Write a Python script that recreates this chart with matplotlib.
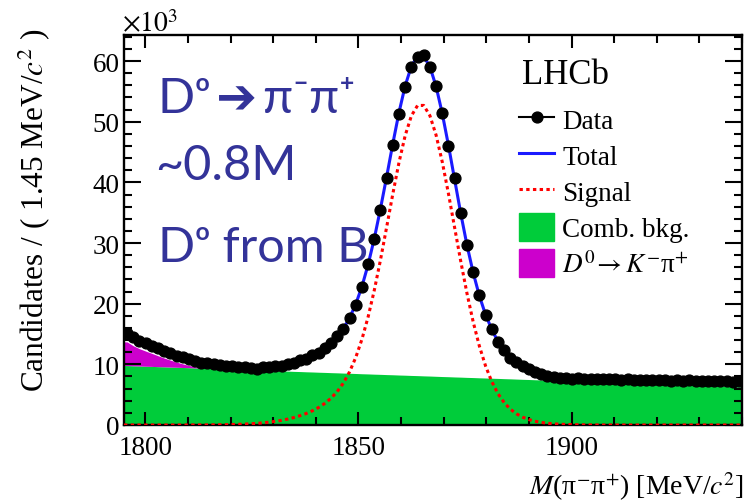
import numpy as np
import matplotlib
matplotlib.use("Agg")
import matplotlib.pyplot as plt
from matplotlib.lines import Line2D
from matplotlib.patches import Patch
from matplotlib.ticker import MultipleLocator

plt.rcParams["font.family"] = ["Liberation Serif", "DejaVu Serif"]
plt.rcParams["mathtext.fontset"] = "stix"

# mass binning: 100 bins of 1.45 MeV/c^2
m_lo, m_hi, bin_w = 1795.0, 1940.0, 1.45
centers = m_lo + bin_w * (np.arange(100) + 0.5)

# candidates per bin, in units of 10^3
data = [
    15.15, 14.55, 13.90, 13.55, 13.05, 12.75, 12.20, 11.90, 11.40, 11.20,
    10.80, 10.62, 10.30, 10.22, 10.00, 9.95, 9.75, 9.70, 9.55, 9.50,
    9.40, 9.30, 9.52, 9.50, 9.70, 9.75, 10.05, 10.25, 10.65, 10.95,
    11.50, 11.95, 12.75, 13.45, 14.60, 15.85, 17.70, 19.85, 22.80, 26.50,
    30.60, 35.50, 40.75, 46.10, 51.30, 55.70, 58.95, 60.75, 61.05, 59.10,
    55.85, 51.45, 46.05, 40.65, 34.90, 29.70, 25.30, 21.40, 18.10, 15.85,
    13.70, 12.30, 11.05, 10.35, 9.65, 9.25, 8.70, 8.45, 8.10, 7.98,
    7.80, 7.82, 7.65, 7.70, 7.62, 7.66, 7.55, 7.60, 7.54, 7.58,
    7.50, 7.55, 7.44, 7.50, 7.42, 7.46, 7.40, 7.41, 7.33, 7.38,
    7.30, 7.36, 7.27, 7.30, 7.22, 7.26, 7.20, 7.22, 7.12, 7.18,
]

total = [
    15.10, 14.43, 13.92, 13.50, 13.09, 12.67, 12.24, 11.85, 11.47, 11.13,
    10.84, 10.57, 10.37, 10.18, 10.03, 9.91, 9.79, 9.68, 9.57, 9.48,
    9.44, 9.43, 9.48, 9.56, 9.65, 9.79, 10.01, 10.27, 10.60, 10.97,
    11.44, 11.99, 12.69, 13.50, 14.56, 15.88, 17.65, 19.92, 22.83, 26.44,
    30.74, 35.66, 40.93, 46.39, 51.54, 55.94, 59.14, 60.82, 60.79, 59.07,
    55.82, 51.36, 46.11, 40.46, 34.83, 29.64, 25.13, 21.30, 18.20, 15.78,
    13.77, 12.25, 11.13, 10.32, 9.72, 9.20, 8.78, 8.41, 8.13, 7.96,
    7.85, 7.78, 7.72, 7.68, 7.65, 7.63, 7.61, 7.59, 7.57, 7.55,
    7.53, 7.51, 7.49, 7.47, 7.45, 7.43, 7.41, 7.39, 7.37, 7.35,
    7.33, 7.31, 7.29, 7.27, 7.25, 7.23, 7.21, 7.19, 7.17, 7.15,
]

signal = [
    0.00, 0.00, 0.00, 0.00, 0.00, 0.00, 0.00, 0.00, 0.00, 0.00,
    0.01, 0.01, 0.01, 0.02, 0.03, 0.04, 0.06, 0.08, 0.11, 0.15,
    0.20, 0.27, 0.36, 0.47, 0.60, 0.77, 0.98, 1.23, 1.54, 1.90,
    2.35, 2.89, 3.57, 4.42, 5.51, 6.92, 8.77, 11.13, 14.13, 17.82,
    22.21, 27.21, 32.62, 38.11, 43.30, 47.73, 50.97, 52.68, 52.69, 51.00,
    47.79, 43.37, 38.15, 32.54, 26.94, 21.69, 17.01, 13.02, 9.75, 7.17,
    5.19, 3.71, 2.62, 1.85, 1.29, 0.90, 0.62, 0.43, 0.29, 0.20,
    0.13, 0.09, 0.06, 0.04, 0.02, 0.01, 0.01, 0.00, 0.00, 0.00,
    0.00, 0.00, 0.00, 0.00, 0.00, 0.00, 0.00, 0.00, 0.00, 0.00,
    0.00, 0.00, 0.00, 0.00, 0.00, 0.00, 0.00, 0.00, 0.00, 0.00,
]

comb = [
    9.80, 9.76, 9.73, 9.69, 9.66, 9.62, 9.59, 9.55, 9.52, 9.48,
    9.45, 9.41, 9.38, 9.34, 9.30, 9.27, 9.23, 9.20, 9.16, 9.13,
    9.09, 9.06, 9.02, 8.99, 8.95, 8.92, 8.88, 8.84, 8.81, 8.77,
    8.74, 8.70, 8.67, 8.63, 8.60, 8.56, 8.53, 8.49, 8.45, 8.42,
    8.38, 8.35, 8.31, 8.28, 8.24, 8.21, 8.17, 8.14, 8.10, 8.07,
    8.03, 7.99, 7.96, 7.92, 7.89, 7.85, 7.82, 7.78, 7.75, 7.71,
    7.68, 7.64, 7.61, 7.57, 7.53, 7.50, 7.46, 7.43, 7.39, 7.36,
    7.32, 7.29, 7.25, 7.22, 7.18, 7.15, 7.11, 7.07, 7.04, 7.00,
    6.97, 6.93, 6.90, 6.86, 6.83, 6.79, 6.76, 6.72, 6.68, 6.65,
    6.61, 6.58, 6.54, 6.51, 6.47, 6.44, 6.40, 6.37, 6.33, 6.30,
]

# misidentified D0 -> K- pi+ (stacked on top of the combinatorial)
misid = [
    3.90, 3.30, 2.85, 2.50, 2.15, 1.80, 1.45, 1.15, 0.85, 0.60,
    0.38, 0.20, 0.08, 0.02,
] + [0.0] * 86

GREEN = "#00cc3a"
MAGENTA = "#cc00cc"
BLUE = "#1a1aff"
RED = "#ff0000"
NOTE = "#333399"
DOTS = (0, (1.1, 1.1))


def edge_pad(v):
    # curves run over the full plotted range
    v = np.asarray(v, dtype=float)
    return np.concatenate([[v[0]], v, [v[-1]]])


xf = np.concatenate([[m_lo], centers, [m_hi]])
comb_f = edge_pad(comb)
misid_f = edge_pad(misid)

fig = plt.figure(figsize=(7.47, 5.02), dpi=100)
ax = fig.add_axes([124 / 747, 76 / 502, 618 / 747, 390 / 502])

ax.fill_between(xf, 0, comb_f, color=GREEN, lw=0, zorder=1)
ax.fill_between(xf, comb_f, comb_f + misid_f, color=MAGENTA, lw=0, zorder=1)
ax.plot(xf, edge_pad(total), color=BLUE, lw=2.2, zorder=3)
ax.plot(xf, edge_pad(signal), color=RED, lw=2.2, ls=DOTS, zorder=3)
ax.plot(centers, data, "o", color="black", ms=7.8, zorder=4)

ax.set_xlim(m_lo, m_hi)
ax.set_ylim(0, 64.3)
ax.xaxis.set_major_locator(MultipleLocator(50))
ax.xaxis.set_minor_locator(MultipleLocator(10))
ax.yaxis.set_major_locator(MultipleLocator(10))
ax.yaxis.set_minor_locator(MultipleLocator(2))
ax.tick_params(which="both", direction="in", top=True, right=True,
               width=1.5, colors="black")
ax.tick_params(axis="x", which="major", length=9.5, pad=7, labelsize=19.5)
ax.tick_params(axis="x", which="minor", length=5.5)
ax.tick_params(axis="y", which="major", length=12.5, pad=3, labelsize=19.5)
ax.tick_params(axis="y", which="minor", length=6)
for sp in ax.spines.values():
    sp.set_linewidth(1.7)

fig.text(34 / 747, 1 - 28 / 502, "Candidates / ( 1.45 MeV/$c^2$ )",
         rotation=90, ha="center", va="top", fontsize=22.5)
fig.text(744 / 747, 1 - 487 / 502, "$M$(π$^{-}$π$^{+}$) [MeV/$c^{2}$]",
         ha="right", va="center", fontsize=20)
fig.text(122 / 747, 1 - 32 / 502, r"$\times10^{3}$", ha="left",
         va="baseline", fontsize=20)
fig.text(522 / 747, 1 - 84 / 502, "LHCb", ha="left", va="baseline",
         fontsize=25)

handles = [
    Line2D([], [], color="black", marker="o", ms=7.8, lw=1.5),
    Line2D([], [], color=BLUE, lw=2.2),
    Line2D([], [], color=RED, lw=2.2, ls=DOTS),
    Patch(facecolor=GREEN, edgecolor=GREEN, joinstyle="round"),
    Patch(facecolor=MAGENTA, edgecolor=MAGENTA, joinstyle="round"),
]
labels = ["Data", "Total", "Signal", "Comb. bkg.",
          r"$D^{0}\!\rightarrow K^{-}$π$^{+}$"]
fig.legend(handles, labels, loc="upper left",
           bbox_to_anchor=(519 / 747, 1 - 106 / 502), frameon=False,
           fontsize=19.5, handlelength=1.3, handleheight=1.25,
           handletextpad=0.3, labelspacing=0.24, borderpad=0,
           borderaxespad=0)

note_font = dict(color=NOTE, fontsize=35, family=["Lato", "DejaVu Sans"])
fig.text(158 / 747, 1 - 113 / 502, "Dᵒ\u2009➔\u2009π⁻π⁺", va="baseline",
         **note_font)
fig.text(155 / 747, 1 - 180 / 502, "~0.8M", va="baseline", **note_font)
fig.text(158 / 747, 1 - 262 / 502, "Dᵒ from B", va="baseline", **note_font)

fig.savefig("out.png", dpi=100)
